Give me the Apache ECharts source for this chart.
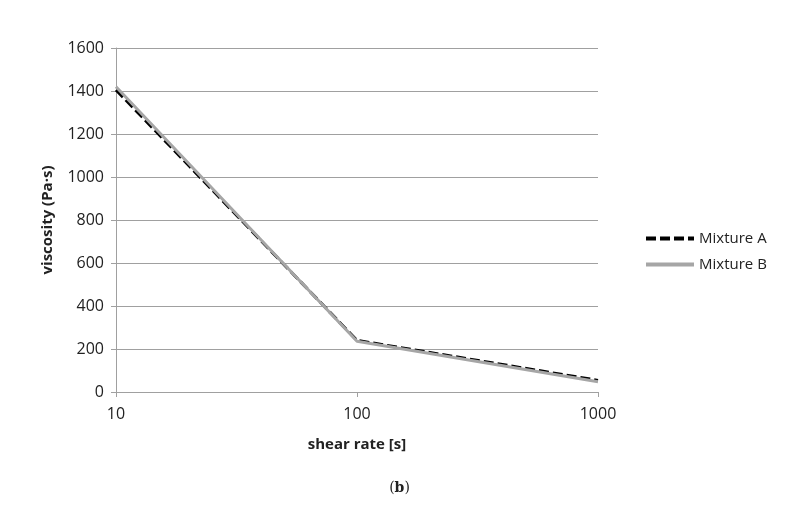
<!DOCTYPE html>
<html>
<head>
<meta charset="utf-8">
<script src="https://cdn.jsdelivr.net/npm/echarts@6/dist/echarts.min.js"></script>
<style>
    html, body { margin: 0; padding: 0; background: #fff; }
    #chart { width: 799px; height: 510px; }
</style>
</head>
<body>
<div id="chart"></div>
<script>
    // shear rate points (s)
    const shearRates = [10, 100, 1000]
    const mixtureA = [1405, 240, 54]
    const mixtureB = [1420, 236, 48]
    const yTicks = [0, 200, 400, 600, 800, 1000, 1200, 1400, 1600]

    const chart = echarts.init(document.getElementById('chart'))
    const font = 'Open Sans, Noto Sans, sans-serif'

    const option = {
        animation: false,
        grid: { left: 116, right: 201, top: 48, bottom: 118 },
        legend: {
            orient: 'vertical',
            left: 639,
            top: 226,
            itemGap: 11,
            itemWidth: 48,
            itemHeight: 14,
            itemStyle: { opacity: 0 },
            lineStyle: { width: 4 },
            textStyle: { fontFamily: font, fontSize: 15, color: '#222' },
            data: ['Mixture A', 'Mixture B']
        },
        xAxis: {
            type: 'log',
            logBase: 10,
            min: shearRates[0],
            max: shearRates[shearRates.length - 1],
            name: 'shear rate [s]',
            nameLocation: 'middle',
            nameGap: 45,
            nameTextStyle: { fontFamily: font, fontSize: 15, fontWeight: 'bold', color: '#222' },
            axisLine: { lineStyle: { color: '#a0a0a0' } },
            axisTick: { show: true, length: 5, lineStyle: { color: '#a0a0a0' } },
            axisLabel: { fontFamily: font, fontSize: 16, color: '#222', margin: 14, formatter: v => String(v) },
            splitLine: { show: false }
        },
        yAxis: {
            type: 'value',
            min: yTicks[0],
            max: yTicks[yTicks.length - 1],
            interval: 200,
            name: 'viscosity (Pa·s)',
            nameLocation: 'middle',
            nameGap: 61,
            nameTextStyle: { fontFamily: font, fontSize: 15, fontWeight: 'bold', color: '#222' },
            axisLine: { show: true, lineStyle: { color: '#a0a0a0' } },
            axisTick: { show: true, length: 5, lineStyle: { color: '#a0a0a0' } },
            axisLabel: { fontFamily: font, fontSize: 16, color: '#222', margin: 12, formatter: v => String(v) },
            splitLine: { show: true, lineStyle: { color: '#a0a0a0', width: 1 } }
        },
        series: [
            {
                name: 'Mixture B',
                type: 'line',
                data: shearRates.map((x, i) => [x, mixtureB[i]]),
                symbol: 'none',
                z: 2,
                lineStyle: { color: '#a6a6a6', width: 3, type: 'solid' },
                itemStyle: { color: '#a6a6a6' }
            },
            {
                name: 'Mixture A',
                type: 'line',
                data: shearRates.map((x, i) => [x, mixtureA[i]]),
                symbol: 'none',
                z: 1,
                lineStyle: { color: '#000', width: 3, type: [10, 4] },
                itemStyle: { color: '#000' }
            }
        ],
        graphic: [
            {
                type: 'text',
                left: 'center',
                top: 481,
                style: {
                    text: '({b|b})',
                    rich: { b: { fontFamily: 'DejaVu Serif, serif', fontSize: 14, fontWeight: 'bold', fill: '#222' } },
                    fontFamily: 'DejaVu Serif, serif',
                    fontSize: 14,
                    fill: '#222'
                }
            }
        ]
    }

    chart.setOption(option)
</script>
</body>
</html>
